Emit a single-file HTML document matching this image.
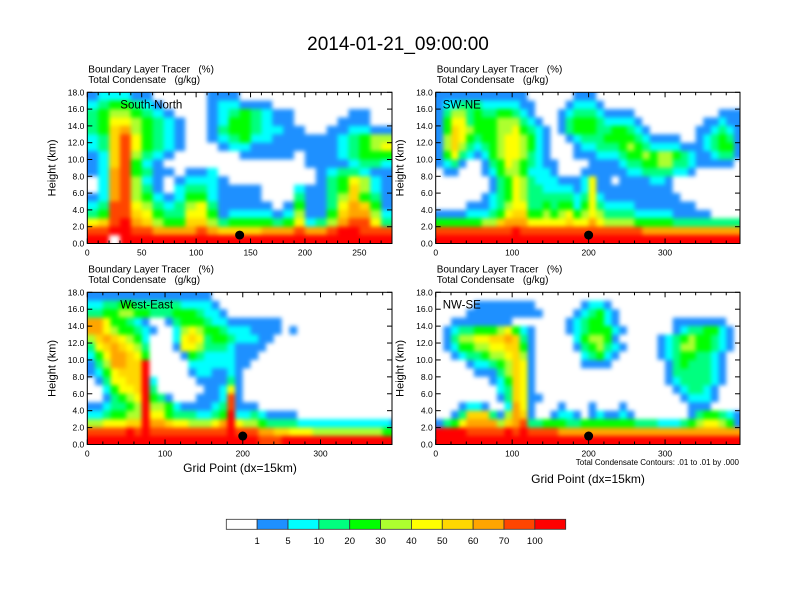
<!DOCTYPE html>
<html><head><meta charset="utf-8"><style>
html,body{margin:0;padding:0;background:#fff;}
svg{display:block;font-family:"Liberation Sans",Arial,sans-serif;}
</style></head><body>
<svg id="fig" width="792" height="612" viewBox="0 0 792 612" xmlns="http://www.w3.org/2000/svg">
<defs>
<filter id="sm" filterUnits="userSpaceOnUse" x="0" y="0" width="792" height="612" color-interpolation-filters="sRGB"><feGaussianBlur stdDeviation="2"/></filter>
</defs>
<text x="398" y="50" font-size="19" text-anchor="middle" fill="#000">2014-01-21_09:00:00</text>
</svg>
<script>
const colors=["#ffffff","#1e90ff","#00ffff","#00ff7f","#00ff00","#adff2f","#ffff00","#ffd700","#ffa500","#ff4500","#ff0000"];
const cbLabels=["1","5","10","20","30","40","50","60","70","100"];
const yTicks=[0,2,4,6,8,10,12,14,16,18];
const snTicks=[0,50,100,150,200,250];
const gpTicks=[0,100,200,300];
const snRows=[
"1222110000011100000000000000",
"2344321000012211100000000000",
"3455432100012343211000001100",
"3466543210012443211000011100",
"3478543210013443221100112211",
"2379643210012342211111123455",
"2379643210001221111111123456",
"1279532100000011111011123444",
"1279421000000000000011112332",
"1289431101120000000001233211",
"0289521012221000000001346521",
"0289531023321111000211347521",
"1289542124421111000311357431",
"2399653235631111101411368741",
"3499764336641222212511478852",
"679a875447753444434623589963",
"99aa9988889877778889889aa999",
"aa0aaaaaaaaaaaaaaaaaaaaaaaaa"];
const swneRows=[
"1111111111110000001110000000000000000000",
"1223332222211000012221000000000000000000",
"1355343344321000123332111100000000000111",
"1466344455532100134443222210000000011211",
"1476544455643210134443344321000000112321",
"1576434456654210012333444432111100123431",
"1575323456654210001223334543222211123441",
"1463212456653210001112223445455432112331",
"1231001346543211000011112334455332111110",
"0110001245542221000111111223333221000000",
"0000000134653222111261101111221000000000",
"0000000134653322221261111111111000000000",
"0000001234653333332362111111111100000000",
"0000111235663343442463222211111111000000",
"1111222346774454564565333322222111110000",
"4444445578886666676686555544444333333333",
"9999999999a99999999999999998888888888888",
"aaaaaaaaaaaaaaaaaaaaaaaaaaaaaaaaaaaaaaaa"];
const weRows=[
"1111111111111111000000000000000000000000",
"2233443333332222100000000000000000000000",
"3344554433344432210000000000000000000000",
"8864432100134443221111111000000000000000",
"8865443210025654432221111010000000000000",
"5787654200026763443222110000000000000000",
"3678765300016653332111100000000000000000",
"2468876400001432222111000000000000000000",
"1358877a00000222222110000000000000000000",
"1246777a00000122112100000000000000000000",
"0136677a20000011113100000000000000000000",
"0024667a30000001126100000000000000000000",
"0013456a43100011129100000000000000000000",
"1123345a55421111239111000000000000000000",
"2234455a6643332234a223211110000000000000",
"5566677a8876655568a655433332222222222221",
"99999a9a9999999999a999887766655555555544",
"aaaaaaaaaaaaaaaaaaaaaa999aaaaaaaaaaaaaaa"];
const nwseRows=[
"0000000000000000000000000000000000000000",
"0000011111111000000122100000000000000000",
"0000111111111100001234210000000000000000",
"0011111111000000012344210000000111111100",
"0123344456421000012344421000000123344210",
"0135566778731000002455410000012345443210",
"0124455667741000001345321000012355443210",
"0012334556751000000234210000012344332100",
"0000122345761000000111100000001343332100",
"0000011135761000000000000000001333332100",
"0000000124761000000000000000001233332100",
"0000000023761000000000000000000123321000",
"0000000013761100000000000000000012221000",
"0001221002861000100010001000000001110000",
"0013777315871001221012112100000001344321",
"1346888857893344433444444433322234566541",
"aaaa99999a9a9999888888888888888888888888",
"aaaaaaaaaaaaaaaaaaaaaaaaaaaaaaaaaaaaaaaa"];
const dotX=[140,200,200,200];
const dotY=[1,1,1,1];

const NS="http://www.w3.org/2000/svg";
const svg=document.getElementById('fig');
function mk(tag,attrs,parent){const e=document.createElementNS(NS,tag);for(const k in attrs)e.setAttribute(k,attrs[k]);(parent||svg).appendChild(e);return e;}

const panels=[
 {key:'south-north',rows:snRows,x0:87.3,x1:392,y0:92.3,y1:243.5,xmax:280,ticks:snTicks,minor:10,name:'South-North',dot:0},
 {key:'sw-ne',rows:swneRows,x0:435.7,x1:740,y0:92.3,y1:243.5,xmax:398,ticks:gpTicks,minor:20,name:'SW-NE',dot:1},
 {key:'west-east',rows:weRows,x0:87.3,x1:392,y0:292.3,y1:444.5,xmax:392,ticks:gpTicks,minor:20,name:'West-East',dot:2},
 {key:'nw-se',rows:nwseRows,x0:435.7,x1:740,y0:292.3,y1:444.5,xmax:398,ticks:gpTicks,minor:20,name:'NW-SE',dot:3}
];
panels.forEach((p,pi)=>{
  const g=mk('g',{});
  
  
  const xs=u=>p.x0+(u/p.xmax)*(p.x1-p.x0);
  const ys=h=>p.y1-(h/18)*(p.y1-p.y0);
  const cid='clip'+pi;
  const cp=mk('clipPath',{id:cid},g);
  mk('rect',{x:p.x0,y:p.y0,width:p.x1-p.x0,height:p.y1-p.y0},cp);
  const cg=mk('g',{'clip-path':'url(#'+cid+')'},g);
  const fg=mk('g',{filter:'url(#sm)'},cg);
  
  
  p.rows.forEach((row,r)=>{
    const hTop=18-r, hBot=17-r;
    for(let c=0;c<row.length;c++){
      const lv=parseInt(row[c],16);
      const xa=xs(c*10), xb=xs(c*10+10);
      const yTop=(r===0)?ys(hTop)-4:ys(hTop);
      const yBot=(r===p.rows.length-1)?ys(hBot)+4:ys(hBot);
      const xL=(c===0)?xa-4:xa;
      const cell=mk('rect',{x:xL,y:yTop,width:xb-xL+(c===row.length-1?6:0.5),height:yBot-yTop+0.5,fill:colors[lv]},fg);
      
      
    }
  });
  const dot=mk('circle',{cx:xs(dotX[p.dot]),cy:ys(dotY[p.dot]),r:4.5,fill:'#000'},cg);
  
  
  const fr=mk('rect',{x:p.x0,y:p.y0,width:p.x1-p.x0,height:p.y1-p.y0,fill:'none',stroke:'#000','stroke-width':1},g);
  
  
  yTicks.forEach(t=>{
    const y=ys(t);
    mk('line',{x1:p.x0,y1:y,x2:p.x0+5,y2:y,stroke:'#000'},g);
    mk('line',{x1:p.x1,y1:y,x2:p.x1-5,y2:y,stroke:'#000'},g);
    const tl=mk('text',{x:p.x0-3,y:y+3,'font-size':8.5,'text-anchor':'end'},g);
    tl.textContent=t.toFixed(1);
    
    
  });
  for(let u=0;u<=p.xmax;u+=p.minor){
    const x=xs(u);const maj=p.ticks.indexOf(u)>=0;const L=maj?5:3;
    mk('line',{x1:x,y1:p.y1,x2:x,y2:p.y1-L,stroke:'#000'},g);
    mk('line',{x1:x,y1:p.y0,x2:x,y2:p.y0+L,stroke:'#000'},g);
  }
  p.ticks.forEach(t=>{
    const tl=mk('text',{x:xs(t),y:p.y1+12,'font-size':8.5,'text-anchor':'middle'},g);
    tl.textContent=String(t);
    
    
  });
  const yl=mk('text',{x:0,y:0,'font-size':11,'text-anchor':'middle',transform:'translate('+(p.x0-32)+','+((p.y0+p.y1)/2)+') rotate(-90)'},g);
  yl.textContent='Height (km)';
  
  
  const s1=mk('text',{x:p.x0+1,y:p.y0-20,'font-size':10},g);
  s1.textContent='Boundary Layer Tracer   (%)';
  s1.style.whiteSpace='pre';
  
  
  const s2=mk('text',{x:p.x0+1,y:p.y0-9.5,'font-size':10},g);
  s2.textContent='Total Condensate   (g/kg)';
  s2.style.whiteSpace='pre';
  
  
  const nm=mk('text',{x:p.x0+(pi%2?7:33),y:p.y0+16,'font-size':11.5},g);
  nm.textContent=p.name;
  
  
});
let t=mk('text',{x:240,y:472,'font-size':12,'text-anchor':'middle'});
t.textContent='Grid Point (dx=15km)';


t=mk('text',{x:588,y:483,'font-size':12,'text-anchor':'middle'});
t.textContent='Grid Point (dx=15km)';


t=mk('text',{x:739,y:465,'font-size':8,'text-anchor':'end'});
t.textContent='Total Condensate Contours: .01 to .01 by .000';


const cb=mk('g',{});


const cbx0=226.3,cbx1=565.7,cby=519.3,cbh=10;
const bw=(cbx1-cbx0)/colors.length;
colors.forEach((c,i)=>{
  const r=mk('rect',{x:cbx0+i*bw,y:cby,width:bw,height:cbh,fill:c,stroke:'#333','stroke-width':0.8},cb);
  
  
});
cbLabels.forEach((l,i)=>{
  const tl=mk('text',{x:cbx0+(i+1)*bw,y:544,'font-size':9.5,'text-anchor':'middle'},cb);
  tl.textContent=l;
  
  
});
</script>
</body></html>
